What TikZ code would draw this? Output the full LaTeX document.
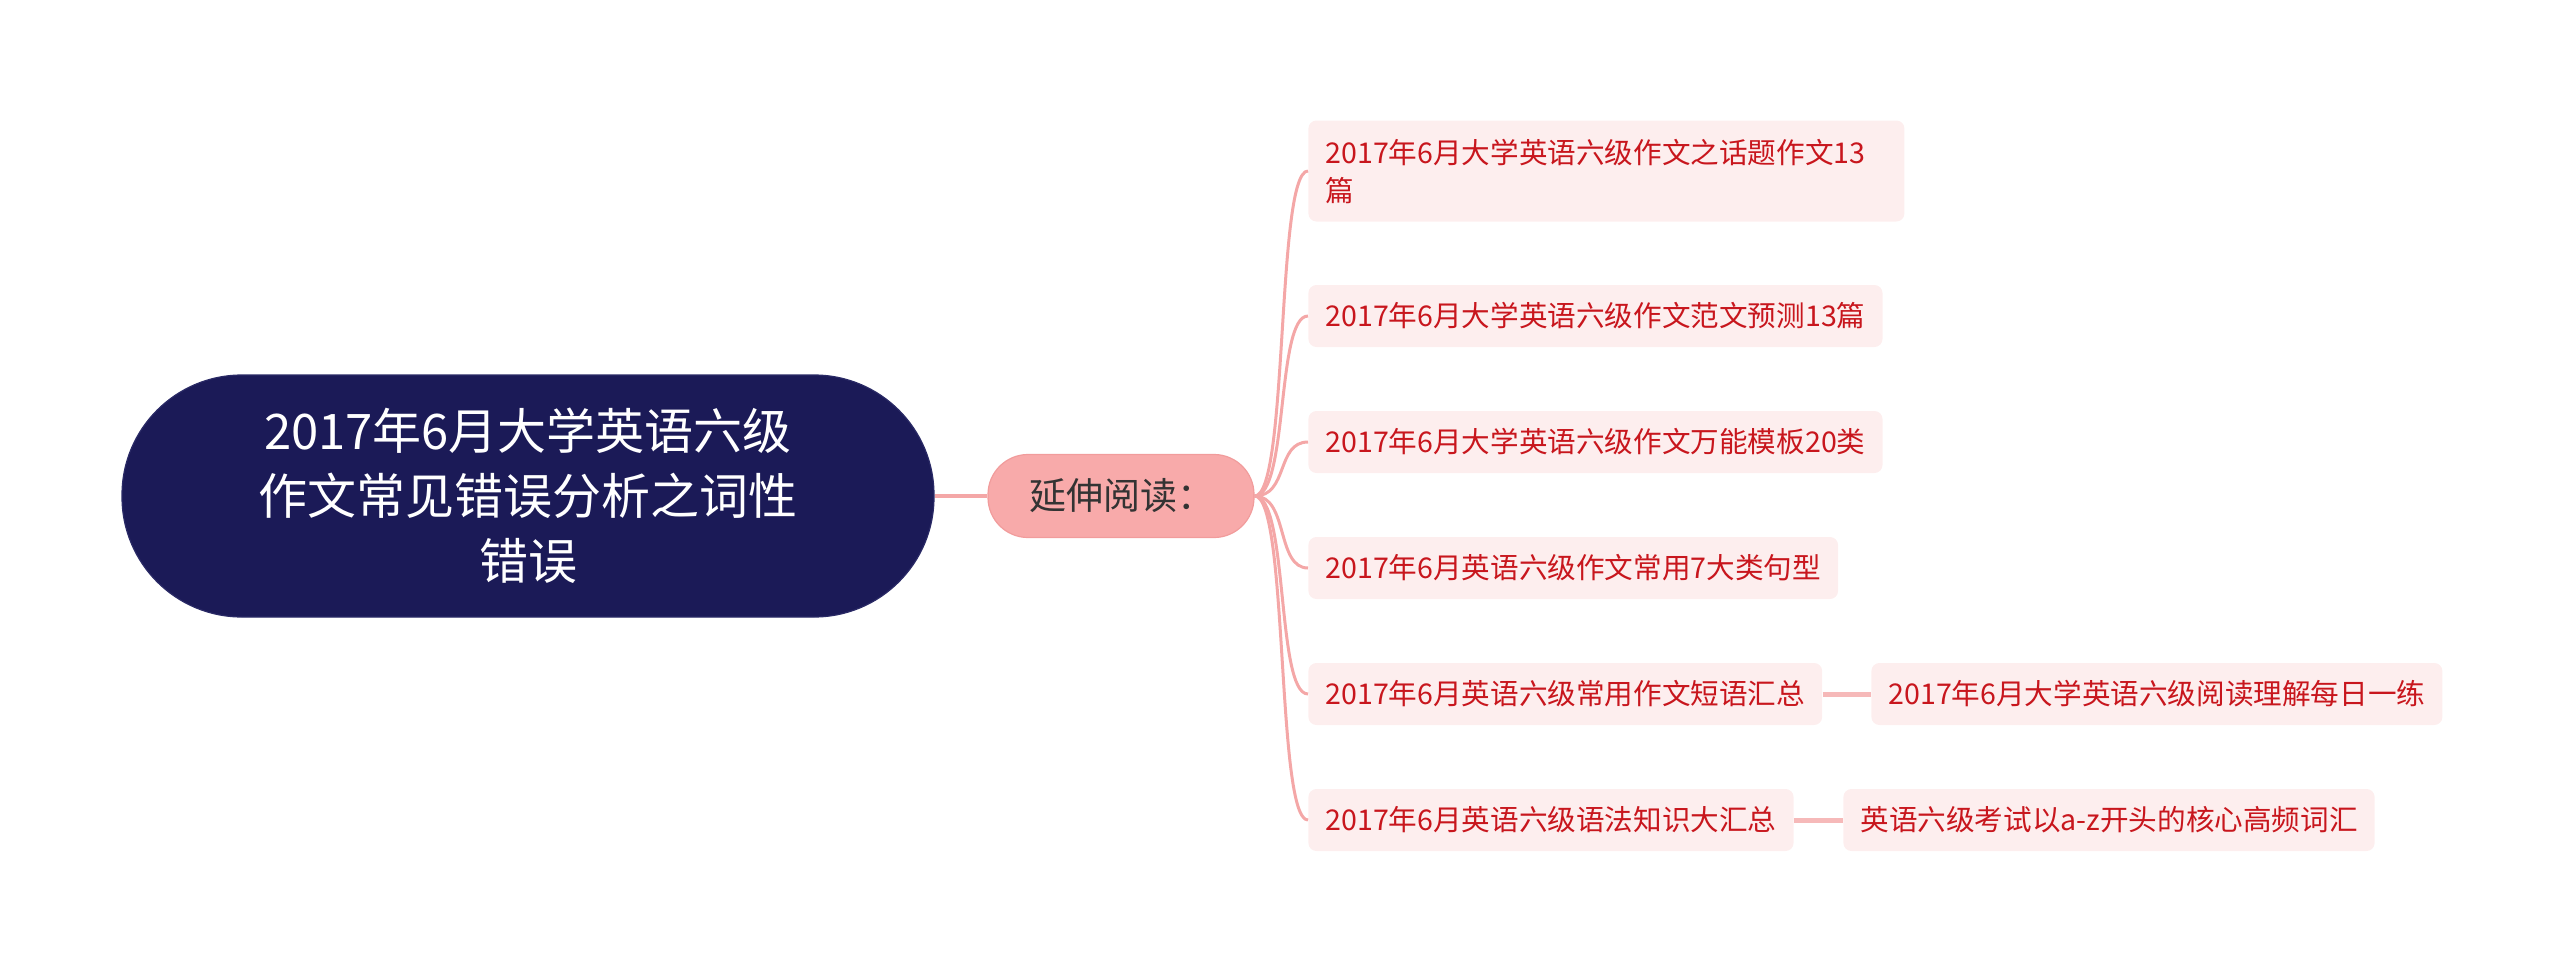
\documentclass[tikz,border=0pt]{standalone}
\usepackage{fontspec}
\setmainfont{Noto Sans CJK SC}
\definecolor{rootfill}{HTML}{1B1A57}
\definecolor{rootborder}{HTML}{2A2A66}
\definecolor{linec}{HTML}{F4A7A7}
\definecolor{linel}{HTML}{F6B9B9}
\definecolor{midfill}{HTML}{F8AAAA}
\definecolor{midborder}{HTML}{F19C9C}
\definecolor{leaffill}{HTML}{FDEEEE}
\definecolor{leaftext}{HTML}{C8161D}
\definecolor{midtext}{HTML}{333333}
\begin{document}
\begin{tikzpicture}[x=0.5pt,y=-0.5pt,
  leaf/.style={fill=leaffill, rounded corners=4pt, text=leaftext,
    font=\fontsize{14.3pt}{19pt}\selectfont, inner xsep=8.5pt, inner ysep=2pt,
    minimum height=31pt, anchor=west, align=left},
  link/.style={draw=linec, line width=1.5pt},
  sublink/.style={draw=linel, line width=2.5pt}]
\useasboundingbox (0,0) rectangle (2560,975);
\node[draw=rootborder, line width=0.6pt, fill=rootfill, rounded corners=60pt,
  minimum width=406pt, minimum height=121pt, text=white, align=center,
  font=\fontsize{24.5pt}{32.5pt}\selectfont] (root) at (528,496)
  {2017年6月大学英语六级\\作文常见错误分析之词性\\错误};
\node[draw=midborder, line width=0.6pt, fill=midfill, rounded corners=20pt,
  minimum width=133pt, minimum height=41.5pt] (mid) at (1121,496) {};
\node[anchor=west, inner sep=0pt, text=midtext,
  font=\fontsize{18.5pt}{22pt}\selectfont] (midlabel) at (1029,496) {延伸阅读：};
\draw[link, line width=2pt] (root.east) -- (mid.west);
\node[leaf, minimum height=50.5pt, text width=281pt] (l1) at (1308,171) {2017年6月大学英语六级作文之话题作文13\\篇};
\node[leaf] (l2) at (1308,316) {2017年6月大学英语六级作文范文预测13篇};
\node[leaf] (l3) at (1308,442) {2017年6月大学英语六级作文万能模板20类};
\node[leaf] (l4) at (1308,568) {2017年6月英语六级作文常用7大类句型};
\node[leaf] (l5) at (1308,694) {2017年6月英语六级常用作文短语汇总};
\node[leaf] (l6) at (1308,820) {2017年6月英语六级语法知识大汇总};
\node[leaf] (c5) at (1871,694) {2017年6月大学英语六级阅读理解每日一练};
\node[leaf] (c6) at (1843,820) {英语六级考试以a-z开头的核心高频词汇};
\foreach \n in {l1,l2,l3,l4,l5,l6}
  \draw[link] (mid.east) .. controls +(34,0) and +(-32,0) .. (\n.west);
\draw[sublink] (l5.east) -- (c5.west);
\draw[sublink] (l6.east) -- (c6.west);
\end{tikzpicture}
\end{document}
